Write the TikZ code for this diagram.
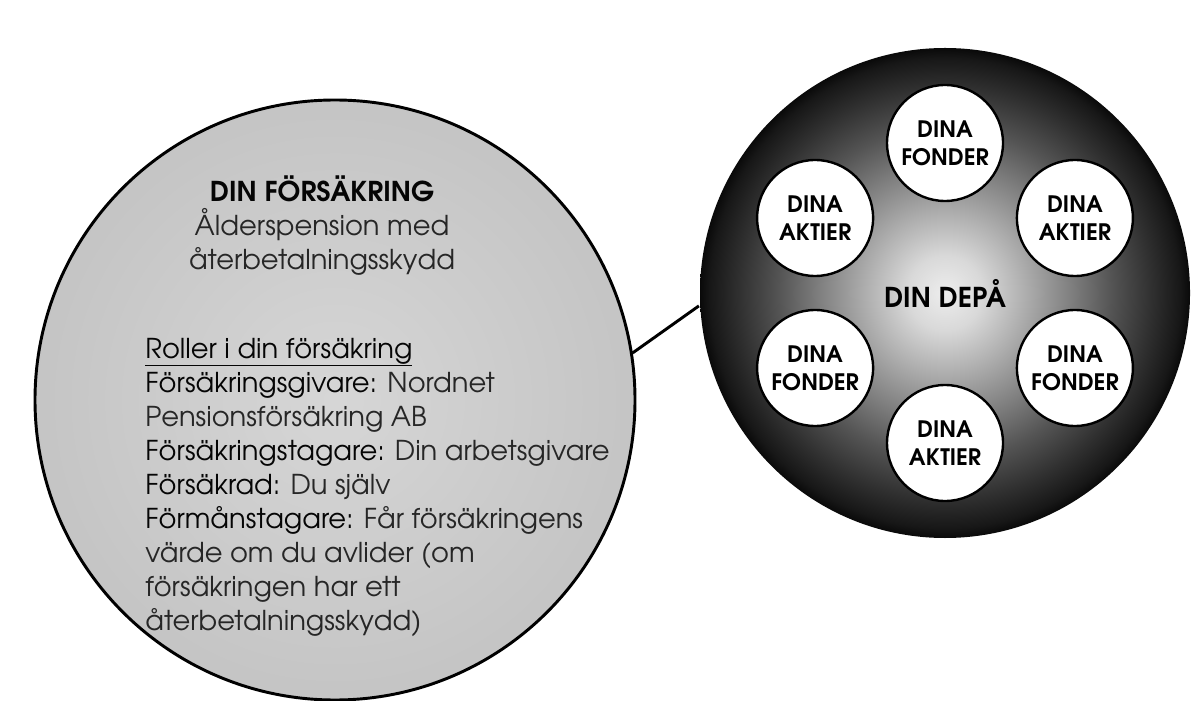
\documentclass[tikz,border=0pt]{standalone}
\usepackage{fontspec}
\setmainfont{TeX Gyre Adventor}
\usetikzlibrary{positioning}
\definecolor{plate}{gray}{0.77}
\definecolor{platemid}{gray}{0.84}
\definecolor{ink}{gray}{0.02}
\definecolor{softink}{gray}{0.15}
\pgfdeclareradialshading{depashade}{\pgfpointorigin}{rgb(0bp)=(0.93,0.93,0.93); rgb(3.8bp)=(0.85,0.85,0.85); rgb(7.7bp)=(0.70,0.70,0.70); rgb(12.8bp)=(0.50,0.50,0.50); rgb(17bp)=(0.33,0.33,0.33); rgb(21bp)=(0.19,0.19,0.19); rgb(24bp)=(0.09,0.09,0.09); rgb(25.5bp)=(0.01,0.01,0.01); rgb(50bp)=(0.01,0.01,0.01)}
\tikzset{
  bigdisc/.style={circle,draw,line width=2.2pt,minimum size=450pt,inner sep=0,inner color=platemid,outer color=plate},
  depadisc/.style={circle,minimum size=367.5pt,inner sep=0,shade,shading=depashade,font=\bfseries\fontsize{20.5}{22}\selectfont},
  holding/.style={circle,draw,line width=1.8pt,fill=white,minimum size=87pt,inner sep=0,align=center,font=\bfseries\fontsize{17}{21}\selectfont},
  rolltext/.style={inner sep=0,text=softink,font=\fontsize{20.5}{25.5}\selectfont}
}

\begin{document}
\begin{tikzpicture}[x=0.75pt,y=0.75pt,line width=2.2pt]
 \useasboundingbox (0,0) rectangle (1201,700);
 \node[bigdisc] (forsakring) at (335,300) {};
 \node[depadisc] (depa) at (945,407) {DIN DEP\AA};
 \foreach \ang/\what [count=\i] in {90/FONDER,30/AKTIER,-30/FONDER,-90/AKTIER,210/FONDER,150/AKTIER}{
     \node[holding] (h\i) at ([shift={(\ang:150)}]depa) {DINA\\\what};
 }
 \draw (forsakring.9.5) -- (depa.183.5);
 \node[rolltext,align=center] (titel) at (322,474) {\textcolor{ink}{\textbf{DIN FÖRSÄKRING}}\\Ålderspension med\\återbetalningsskydd};
 \node[rolltext,align=left,anchor=west] (roller) at (144,213) {\textcolor{ink}{\underline{Roller i din försäkring}}\\
   \textcolor{ink}{Försäkringsgivare:} Nordnet\\
   Pensionsförsäkring AB\\
   \textcolor{ink}{Försäkringstagare:} Din arbetsgivare\\
   \textcolor{ink}{Försäkrad:} Du själv\\
   \textcolor{ink}{Förmånstagare:} Får försäkringens\\
   värde om du avlider (om\\
   försäkringen har ett\\
   återbetalningsskydd)};
\end{tikzpicture}
\end{document}
